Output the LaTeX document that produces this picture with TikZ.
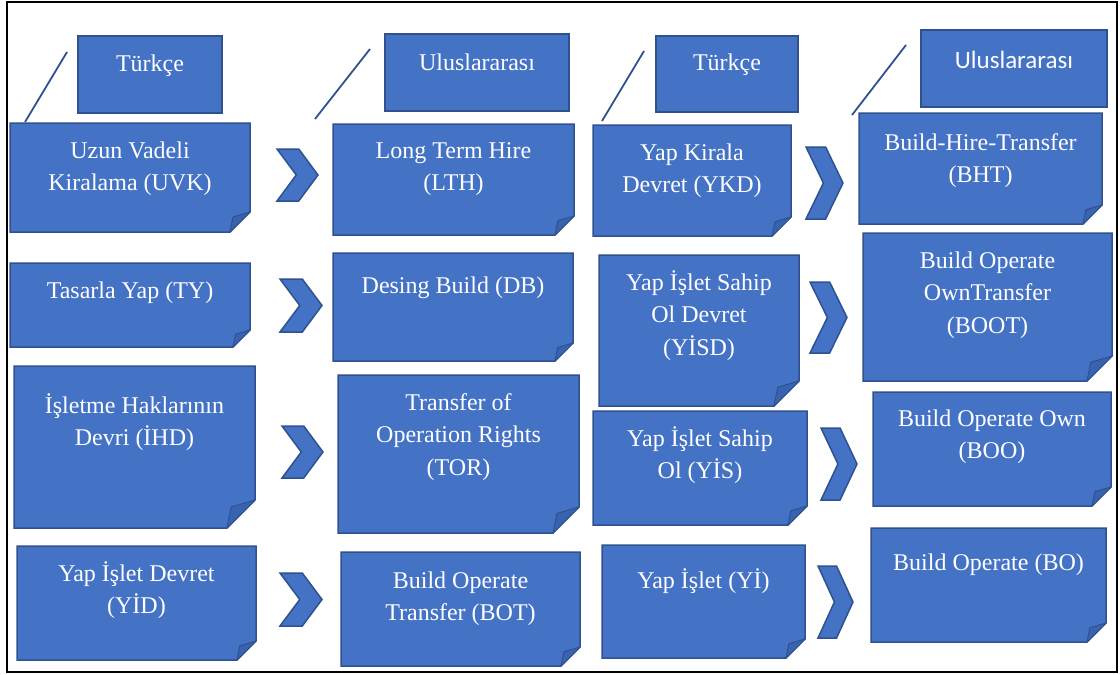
\documentclass[tikz,border=0pt]{standalone}
\usepackage{fontspec}
\setmainfont{Liberation Serif}
\newfontfamily\calfont{Carlito}
\definecolor{boxblue}{HTML}{4472C4}
\definecolor{edgeblue}{HTML}{2F528F}
\definecolor{foldblue}{HTML}{3863B0}
\tikzset{
  boxarea/.style={rectangle, draw=none, inner sep=0pt, outer sep=0pt},
  boxline/.style={fill=boxblue, draw=edgeblue, line width=1.5pt, line join=miter},
  foldline/.style={fill=foldblue, draw=edgeblue, line width=1pt, line join=round},
  boxtext/.style={text=white, align=center, inner sep=0pt, font=\fontsize{24}{32.5}\selectfont},
  headbox/.style={rectangle, fill=boxblue, draw=edgeblue, line width=1.5pt, inner sep=0pt},
  slash/.style={draw=edgeblue, line width=1.8pt},
  chevron/.style={fill=boxblue, draw=edgeblue, line width=1.5pt, line join=miter},
  frameline/.style={draw=black, line width=2.5pt}
}
% #7 = baseline of the LAST text line
\newcommand\fbx[8]{%
  \node[boxarea, minimum width={(#4-#2)*1pt}, minimum height={(#5-#3)*1pt}] (#1) at ({(#2+#4)/2},{(#3+#5)/2}) {};
  \draw[boxline] (#1.north west) -- (#1.north east) -- ([yshift=#6pt]#1.south east) -- ([xshift=-#6pt]#1.south east) -- (#1.south west) -- cycle;
  \draw[foldline] ([xshift=-#6pt]#1.south east) -- ([xshift=-0.85*#6pt, yshift=0.75*#6pt]#1.south east) -- ([yshift=#6pt]#1.south east) -- cycle;
  \node[boxtext, anchor=base] (#1-t) at ({(#2+#4)/2},#7) {#8};
}
\newcommand\hbx[7]{%
  \node[headbox, minimum width={(#4-#2)*1pt}, minimum height={(#5-#3)*1pt}] (#1) at ({(#2+#4)/2},{(#3+#5)/2}) {};
  \node[boxtext, anchor=base] (#1-t) at ({(#2+#4)/2},#6) {#7};
}
\newcommand\chv[4]{%
  \draw[chevron] (#1,#2) -- ({#3-0.47*(#3-#1)},#2) -- (#3,{(#2+#4)/2}) -- ({#3-0.47*(#3-#1)},#4) -- (#1,#4) -- ({#1+0.47*(#3-#1)},{(#2+#4)/2}) -- cycle;
}
\begin{document}
\begin{tikzpicture}[x=1pt, y=-1pt]
\useasboundingbox (0,0) rectangle (1120,675);
\draw[frameline] (7,2) rectangle (1117,672);

% headers
\hbx{h1}{78}{36}{222}{113}{71}{Türkçe}
\hbx{h2}{385}{34}{569}{111}{70}{Uluslararası}
\hbx{h3}{656}{36}{798}{112}{70}{Türkçe}
\hbx{h4}{921}{30}{1107}{107}{68}{\calfont\fontsize{25}{30}\selectfont Uluslararası}

% slash lines
\coordinate (s1a) at (67,52);  \coordinate (s1b) at (25,122);
\coordinate (s2a) at (370,49); \coordinate (s2b) at (315,119);
\coordinate (s3a) at (644,51); \coordinate (s3b) at (602,121);
\coordinate (s4a) at (906,45); \coordinate (s4b) at (852,115);
\draw[slash] (s1a) -- (s1b);
\draw[slash] (s2a) -- (s2b);
\draw[slash] (s3a) -- (s3b);
\draw[slash] (s4a) -- (s4b);

% column 1
\fbx{uvk}{10}{123}{250}{232}{20}{190.5}{Uzun Vadeli\\Kiralama (UVK)}
\fbx{ty}{10}{263}{250}{347}{17}{298}{Tasarla Yap (TY)}
\fbx{ihd}{14}{366}{255}{528}{28}{445.5}{İşletme Haklarının\\Devri (İHD)}
\fbx{yid}{17}{546}{256}{660}{19}{613.5}{Yap İşlet Devret\\(YİD)}

% column 2
\fbx{lth}{333}{124}{574}{235}{19}{190.5}{Long Term Hire\\(LTH)}
\fbx{db}{333}{253}{573}{361}{18}{293}{Desing Build (DB)}
\fbx{tor}{338}{375}{579}{533}{26}{475}{Transfer of\\Operation Rights\\(TOR)}
\fbx{bot}{341}{552}{580}{666}{19}{620.5}{Build Operate\\Transfer (BOT)}

% column 3
\fbx{ykd}{593}{125}{791}{236}{19}{192.5}{Yap Kirala\\Devret (YKD)}
\fbx{yisd}{599}{255}{799}{406}{25}{355}{Yap İşlet Sahip\\Ol Devret\\(YİSD)}
\fbx{yis}{593}{411}{807}{525}{19}{478.5}{Yap İşlet Sahip\\Ol (YİS)}
\fbx{yi}{602}{545}{805}{658}{19}{588}{Yap İşlet (Yİ)}

% column 4
\fbx{bht}{859}{113}{1102}{224}{19}{182.5}{Build-Hire-Transfer\\(BHT)}
\fbx{boot}{863}{233}{1112}{381}{25}{333}{Build Operate\\OwnTransfer\\(BOOT)}
\fbx{boo}{873}{392}{1111}{506}{19}{458.5}{Build Operate Own\\(BOO)}
\fbx{bo}{871}{528}{1106}{642}{19}{570}{Build Operate (BO)}

% chevrons
\chv{277}{149}{318}{201}
\chv{280}{279}{322}{332}
\chv{282}{426}{323}{478}
\chv{280}{573}{322}{626}
\chv{806}{147}{843}{219}
\chv{810}{282}{847}{353}
\chv{821}{428}{857}{500}
\chv{818}{566}{853}{638}
\end{tikzpicture}
\end{document}
